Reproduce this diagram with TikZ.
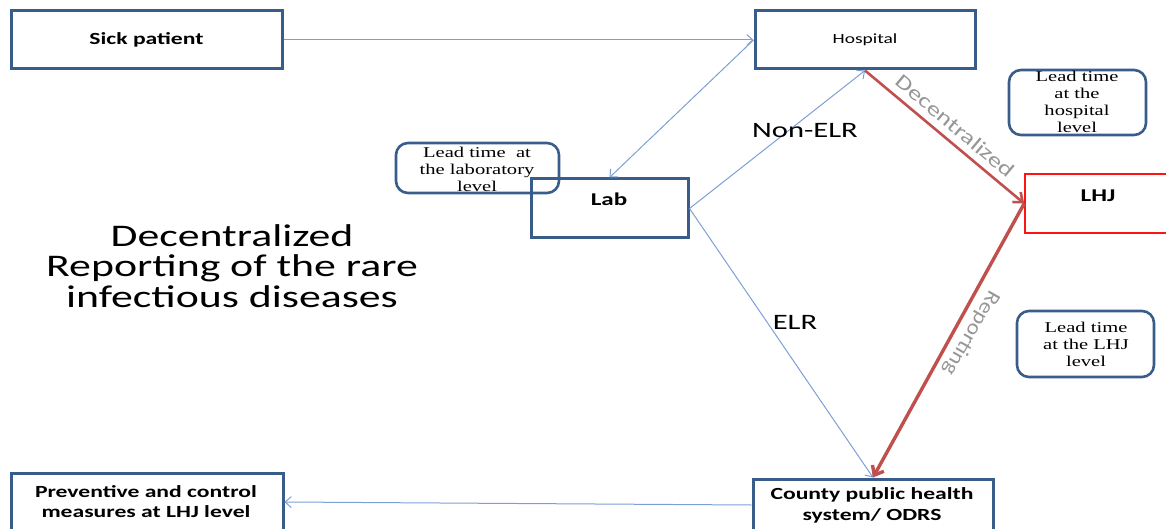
\documentclass[tikz,border=0pt]{standalone}
\usepackage{fontspec}
\usepackage{graphicx}
\setmainfont{Carlito}
\newfontfamily\leadfont{Liberation Serif}
\usetikzlibrary{arrows.meta}

\definecolor{boxblue}{RGB}{56,93,138}
\definecolor{lineblue}{RGB}{125,160,212}
\definecolor{flowred}{RGB}{192,80,77}
\definecolor{lhjred}{RGB}{255,20,20}
\definecolor{labelgray}{RGB}{150,150,150}

% horizontally widened text and centred multi-line stacks
\newcommand\wide[2][1.39]{\scalebox{#1}[1]{#2}}
\newcommand\lines[1]{\begin{tabular}{@{}c@{}}#1\end{tabular}}

\begin{document}
\begin{tikzpicture}[x=1pt,y=-1pt,
  stage/.style={draw=boxblue, line width=3pt, inner sep=0pt},
  leadbox/.style={draw=boxblue, line width=2.6pt, rounded corners=12pt, inner sep=0pt},
  txt/.style={inner sep=0pt, align=center},
  boxfont/.style={font=\fontsize{17}{21}\selectfont\bfseries},
  leadtxt/.style={txt, font=\leadfont\fontsize{15}{17}\selectfont},
  thin/.style={draw=lineblue, line width=1pt, -{Straight Barb[length=6pt,width=11pt]}},
  redflow/.style={draw=flowred, -{Straight Barb[length=8pt,width=13pt]}},
  flowlabel/.style={txt, text=labelgray, font=\fontsize{20.5}{24}\selectfont},
  edgelabel/.style={txt, font=\fontsize{22}{26}\selectfont}]

\useasboundingbox (0,0) rectangle (1166,529);
\clip (0,0) rectangle (1166,529);

% rounded boxes with lead-time notes
\node[leadbox, minimum width=163pt, minimum height=50pt] (leadlab) at (477.5,168) {};
\node[leadbox, minimum width=137pt, minimum height=65pt] (leadhosp) at (1077.5,102.5) {};
\node[leadbox, minimum width=137pt, minimum height=66pt] (leadlhj) at (1085.5,344) {};
\node[leadtxt] (leadlabtxt) at (477,171) {\wide[1.37]{\lines{Lead time~~at\\the laboratory\\level}}};
\node[leadtxt] (leadhosptxt) at (1077,104) {\wide[1.37]{\lines{Lead time\\at the\\hospital\\level}}};
\node[leadtxt] (leadlhjtxt) at (1086,346.5) {\wide[1.37]{\lines{Lead time\\at the LHJ\\level}}};

% stage boxes
\node[stage, minimum width=271pt, minimum height=58pt, boxfont] (sick) at (146.5,40)
  {\wide{Sick patient}};
\node[stage, minimum width=220pt, minimum height=58pt, font=\fontsize{14}{17}\selectfont] (hosp) at (865,40)
  {\wide{Hospital}};
\node[stage, minimum width=157pt, minimum height=59pt] (lab) at (609.5,208.5) {};
\node[txt, font=\fontsize{18}{22}\selectfont\bfseries] (labtxt) at (609,199) {\wide{Lab}};
\node[draw=lhjred, line width=1.6pt, inner sep=0pt, minimum width=155pt, minimum height=59pt] (lhj) at (1102.5,203.5) {};
\node[txt, font=\fontsize{18}{22}\selectfont\bfseries] (lhjtxt) at (1098,196) {\wide{LHJ}};
\node[stage, minimum width=240pt, minimum height=52pt] (county) at (873,505) {};
\node[txt, boxfont] (countytxt) at (872,506) {\wide{\lines{County public health\\system/ ODRS}}};
\node[stage, minimum width=272pt, minimum height=58pt] (prev) at (147,502) {};
\node[txt, font=\fontsize{17}{20}\selectfont\bfseries] (prevtxt) at (146,503) {\wide{\lines{Preventive and control\\measures at LHJ level}}};

% title
\node[txt, font=\fontsize{31.5}{29}\selectfont] (title) at (232,270.2)
  {\wide{\lines{Decentralized\\Reporting of the rare\\infectious diseases}}};

% connectors
\draw[thin] (sick.east) -- (hosp.west);
\draw[thin] (hosp.west) -- (lab.north);
\draw[thin] (lab.east) -- (hosp.south);
\draw[thin] (lab.east) -- (county.north);
\draw[thin] (county.west) -- (prev.east);
\draw[redflow, line width=2.6pt] (hosp.south) -- (lhj.west);
\draw[redflow, line width=3.4pt] (lhj.west) -- (county.north);

% connector labels
\node[edgelabel] (nonelr) at (805,131) {\wide{Non-ELR}};
\node[edgelabel] (elr) at (795,322) {\wide{ELR}};
\node[flowlabel, rotate=-40] (decentral) at (955,126) {\wide[1.3]{Decentralized}};
\node[flowlabel, rotate=-120] (reporting) at (971,333) {\wide[1.15]{Reporting}};
\end{tikzpicture}
\end{document}
